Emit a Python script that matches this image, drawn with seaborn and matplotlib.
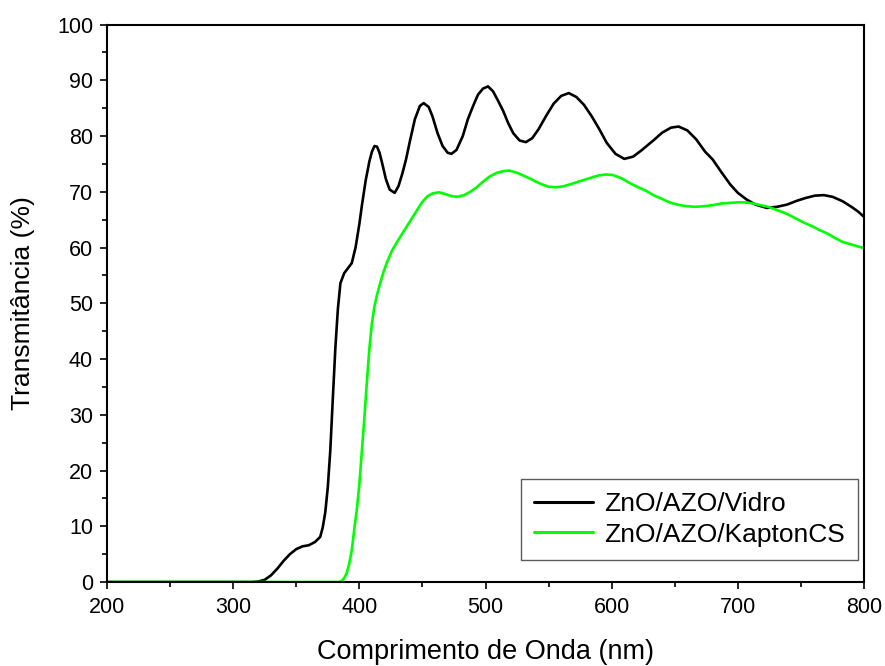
import matplotlib
matplotlib.use("Agg")
import matplotlib.pyplot as plt
from matplotlib.ticker import MultipleLocator
import numpy as np
import pandas as pd
import seaborn as sns

# Transmittance spectra (wavelength in nm, transmittance in %)
vidro_nm = [200, 250, 300, 315, 320, 325, 330, 335, 340, 345, 350, 355, 360, 365,
            369, 371, 373, 375, 377, 379, 381, 383, 385, 388, 391, 394, 397, 400,
            402, 405, 408, 410, 412, 414, 416, 418, 421, 424, 428, 431, 434, 437, 440,
            444, 448, 451, 455, 458, 462, 466, 470, 473, 477, 482, 486, 490, 494,
            498, 502, 506, 510, 514, 518, 522, 527, 532, 537, 542, 548, 554, 560,
            566, 572, 578, 584, 590, 596, 603, 610, 617, 624, 633, 640, 647, 653,
            660, 667, 674, 680, 687, 694, 700, 707, 714, 723, 731, 739, 747, 754,
            761, 768, 775, 783, 790, 795, 800]
vidro_t = [0.0, 0.0, 0.0, 0.0, 0.1, 0.4, 1.2, 2.4, 3.8, 5.0, 5.9, 6.4, 6.6, 7.2,
           8.1, 9.8, 12.5, 17.0, 23.7, 33.0, 42.0, 49.0, 53.6, 55.4, 56.3, 57.2, 60.0, 64.2,
           67.5, 72.0, 75.5, 77.2, 78.2, 78.1, 77.0, 75.2, 72.3, 70.4, 69.8, 71.0, 73.2, 75.8, 79.0,
           83.0, 85.4, 85.9, 85.2, 83.5, 80.5, 78.2, 77.0, 76.8, 77.5, 80.0, 83.0, 85.3, 87.4,
           88.5, 88.9, 88.0, 86.3, 84.5, 82.3, 80.5, 79.2, 78.9, 79.6, 81.2, 83.6, 85.8, 87.2,
           87.7, 87.0, 85.6, 83.6, 81.3, 78.8, 76.8, 75.9, 76.3, 77.5, 79.2, 80.6, 81.5, 81.7,
           81.0, 79.4, 77.2, 75.8, 73.5, 71.3, 69.8, 68.6, 67.7, 67.1, 67.3, 67.7, 68.4, 68.9,
           69.3, 69.4, 69.1, 68.3, 67.3, 66.5, 65.5]

kapton_nm = [200, 250, 300, 350, 384, 386, 388, 390, 392, 394, 396, 398, 400, 402,
             404, 406, 408, 410, 412, 414, 416, 419, 422, 426, 431, 436, 441, 446,
             450, 454, 458, 463, 468, 473, 478, 483, 488, 493, 498, 503, 509, 514,
             519, 525, 530, 535, 540, 545, 550, 556, 562, 568, 575, 582, 589, 595,
             601, 608, 614, 620, 627, 633, 640, 647, 654, 660, 666, 673, 680, 687,
             694, 700, 705, 712, 718, 724, 730, 736, 740, 746, 752, 759, 765, 771,
             777, 783, 789, 795, 800]
kapton_t = [0.0, 0.0, 0.0, 0.0, 0.0, 0.2, 0.7, 1.6, 3.3, 5.7, 9.5, 13.0, 17.5, 23.5,
            29.5, 36.0, 42.0, 46.5, 49.5, 51.5, 53.2, 55.5, 57.4, 59.5, 61.4, 63.2, 65.0, 66.8,
            68.2, 69.2, 69.7, 69.9, 69.6, 69.2, 69.1, 69.4, 70.0, 70.8, 71.8, 72.7, 73.4, 73.7,
            73.8, 73.4, 72.9, 72.4, 71.8, 71.3, 70.9, 70.8, 71.0, 71.4, 71.9, 72.4, 72.9, 73.1,
            73.0, 72.4, 71.6, 70.9, 70.2, 69.4, 68.7, 68.0, 67.6, 67.4, 67.3, 67.4, 67.6, 67.9,
            68.0, 68.1, 68.1, 67.9, 67.6, 67.3, 66.8, 66.3, 65.9, 65.2, 64.5, 63.8, 63.1, 62.5,
            61.7, 61.0, 60.6, 60.2, 59.9]

labels = ["ZnO/AZO/Vidro", "ZnO/AZO/KaptonCS"]
colors = ["#000000", "#00ff00"]
x_ticks = [200, 300, 400, 500, 600, 700, 800]
y_ticks = [0, 10, 20, 30, 40, 50, 60, 70, 80, 90, 100]

df = pd.concat([
    pd.DataFrame({"nm": vidro_nm, "T": vidro_t, "amostra": labels[0]}),
    pd.DataFrame({"nm": kapton_nm, "T": kapton_t, "amostra": labels[1]}),
], ignore_index=True)

sns.set_theme(style="ticks")
plt.rcParams["font.family"] = ["Liberation Sans", "DejaVu Sans"]
plt.rcParams["text.color"] = "black"
plt.rcParams["axes.labelcolor"] = "black"

fig = plt.figure(figsize=(8.85, 6.66), dpi=100)
ax = fig.add_axes([0.1209, 0.1261, 0.8554, 0.8371])

sns.lineplot(data=df, x="nm", y="T", hue="amostra", hue_order=labels,
             palette=dict(zip(labels, colors)), linewidth=1.9, ax=ax,
             estimator=None, sort=False)

ax.set_xlim(200, 800)
ax.set_ylim(0, 100)
ax.set_xticks(x_ticks)
ax.set_yticks(y_ticks)
ax.xaxis.set_minor_locator(MultipleLocator(50))
ax.yaxis.set_minor_locator(MultipleLocator(5))
ax.tick_params(axis="both", which="major", direction="out", length=5, width=1.2,
               labelsize=15.5, colors="black", labelcolor="black")
ax.tick_params(axis="x", which="major", pad=6)
ax.tick_params(axis="y", which="major", pad=5)
ax.tick_params(axis="both", which="minor", direction="out", length=3.5, width=1.2,
               colors="black")
for s in ax.spines.values():
    s.set_visible(True)
    s.set_linewidth(1.5)
    s.set_color("black")

ax.set_xlabel("Comprimento de Onda (nm)", fontsize=19.5, labelpad=15, color="black")
ax.set_ylabel("Transmitância (%)", fontsize=19, labelpad=16, color="black")

leg = ax.legend(loc="lower right", bbox_to_anchor=(0.992, 0.04), fontsize=19,
                frameon=True, fancybox=False, handlelength=2.25, handletextpad=0.4,
                labelspacing=0.25, borderpad=0.5, borderaxespad=0.0)
leg.get_frame().set_edgecolor("#333333")
leg.get_frame().set_linewidth(1.0)
for t in leg.get_texts():
    t.set_color("black")
for h in leg.get_lines():
    h.set_linewidth(2.2)

fig.savefig("out.png", dpi=100)
